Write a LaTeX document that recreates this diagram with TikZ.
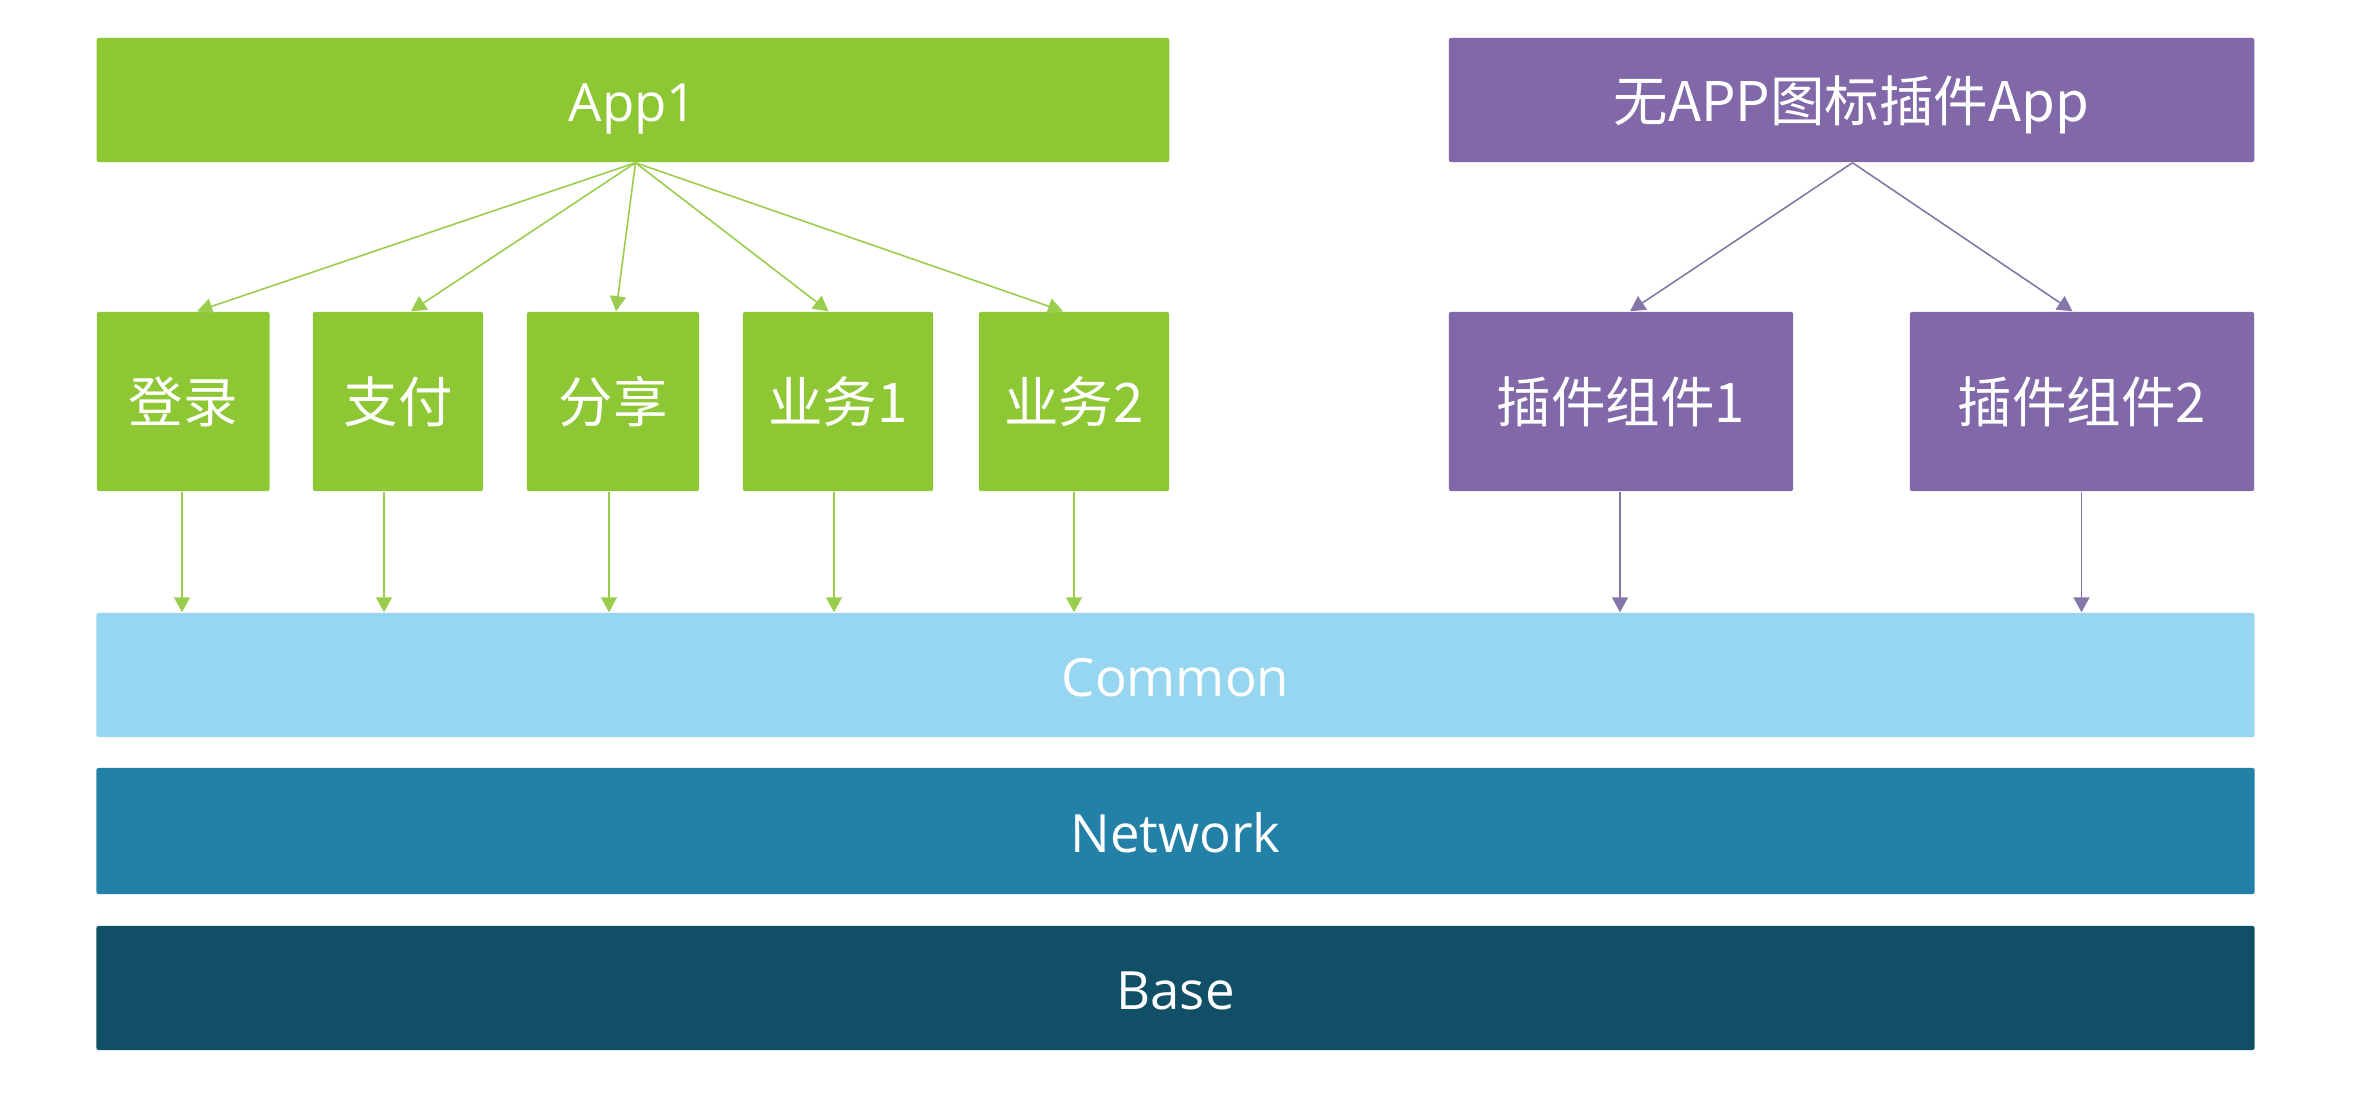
\documentclass[tikz,border=0pt]{standalone}
\usepackage{fontspec}
\setmainfont{Open Sans}
\newfontfamily\cjk{Noto Sans CJK SC}
\usetikzlibrary{arrows.meta}
\definecolor{gfill}{HTML}{8DC733}
\definecolor{gline}{HTML}{9ACD4C}
\definecolor{pfill}{HTML}{8169A9}
\definecolor{pline}{HTML}{8576AA}
\definecolor{cfill}{HTML}{97D6F0}
\definecolor{nfill}{HTML}{2380A6}
\definecolor{bfill}{HTML}{114F66}
\tikzset{
  blk/.style={rectangle, rounded corners=0.6pt, inner sep=0pt, text=white,
    text height=15pt, text depth=3pt,
    font=\fontsize{15pt}{18pt}\selectfont},
  cblk/.style={blk, font=\cjk\fontsize{15.5pt}{18pt}\selectfont},
  garrow/.style={draw=gline, line width=0.45pt, -{Triangle[length=0.15cm,width=0.16cm]}},
  parrow/.style={draw=pline, line width=0.45pt, -{Triangle[length=0.15cm,width=0.16cm]}},
}
\begin{document}
\begin{tikzpicture}[x=0.01cm, y=-0.01cm]
\useasboundingbox[fill=white] (0,0) rectangle (2376,1118);
% top row
\node[blk, fill=gfill, minimum width=10.72cm, minimum height=1.24cm] (app1) at (633,100) {App1};
\node[cblk, fill=pfill, minimum width=8.05cm, minimum height=1.24cm] (plug) at (1851.5,100) {无APP图标插件App};
% middle row
\node[cblk, fill=gfill, minimum width=1.725cm, minimum height=1.79cm] (login) at (183.25,401.5) {登录};
\node[cblk, fill=gfill, minimum width=1.70cm, minimum height=1.79cm] (pay) at (398,401.5) {支付};
\node[cblk, fill=gfill, minimum width=1.72cm, minimum height=1.79cm] (share) at (613,401.5) {分享};
\node[cblk, fill=gfill, minimum width=1.90cm, minimum height=1.79cm] (biz1) at (838,401.5) {业务1};
\node[cblk, fill=gfill, minimum width=1.90cm, minimum height=1.79cm] (biz2) at (1074,401.5) {业务2};
\node[cblk, fill=pfill, minimum width=3.44cm, minimum height=1.79cm] (plg1) at (1621,401.5) {插件组件1};
\node[cblk, fill=pfill, minimum width=3.44cm, minimum height=1.79cm] (plg2) at (2082,401.5) {插件组件2};
% layers
\node[blk, fill=cfill, minimum width=21.57cm, minimum height=1.24cm] (common) at (1175.5,675) {Common};
\node[blk, fill=nfill, minimum width=21.57cm, minimum height=1.26cm] (network) at (1175.5,831) {Network};
\node[blk, fill=bfill, minimum width=21.57cm, minimum height=1.24cm] (base) at (1175.5,988) {Base};
% arrows from App1
\coordinate (a1) at ([shift={(2.5,0)}]app1.south);
\draw[garrow] (a1) -- ([shift={(14,0)}]login.north);
\draw[garrow] (a1) -- ([shift={(13,0)}]pay.north);
\draw[garrow] (a1) -- ([shift={(3,0)}]share.north);
\draw[garrow] (a1) -- ([shift={(-9.5,0)}]biz1.north);
\draw[garrow] (a1) -- ([shift={(-11,0)}]biz2.north);
% arrows from plugin app
\coordinate (p1) at ([shift={(1,0)}]plug.south);
\draw[parrow] (p1) -- ([shift={(9,0)}]plg1.north);
\draw[parrow] (p1) -- ([shift={(-9.5,0)}]plg2.north);
% down to Common
\draw[garrow] ([shift={(-1.25,0)}]login.south) -- ([shift={(-1.25,0)}]login.south |- common.north);
\draw[garrow] ([shift={(-14,0)}]pay.south) -- ([shift={(-14,0)}]pay.south |- common.north);
\draw[garrow] ([shift={(-4,0)}]share.south) -- ([shift={(-4,0)}]share.south |- common.north);
\draw[garrow] ([shift={(-4,0)}]biz1.south) -- ([shift={(-4,0)}]biz1.south |- common.north);
\draw[garrow] (biz2.south) -- (biz2.south |- common.north);
\draw[parrow] ([shift={(-1,0)}]plg1.south) -- ([shift={(-1,0)}]plg1.south |- common.north);
\draw[parrow] ([shift={(-0.5,0)}]plg2.south) -- ([shift={(-0.5,0)}]plg2.south |- common.north);
\end{tikzpicture}
\end{document}
